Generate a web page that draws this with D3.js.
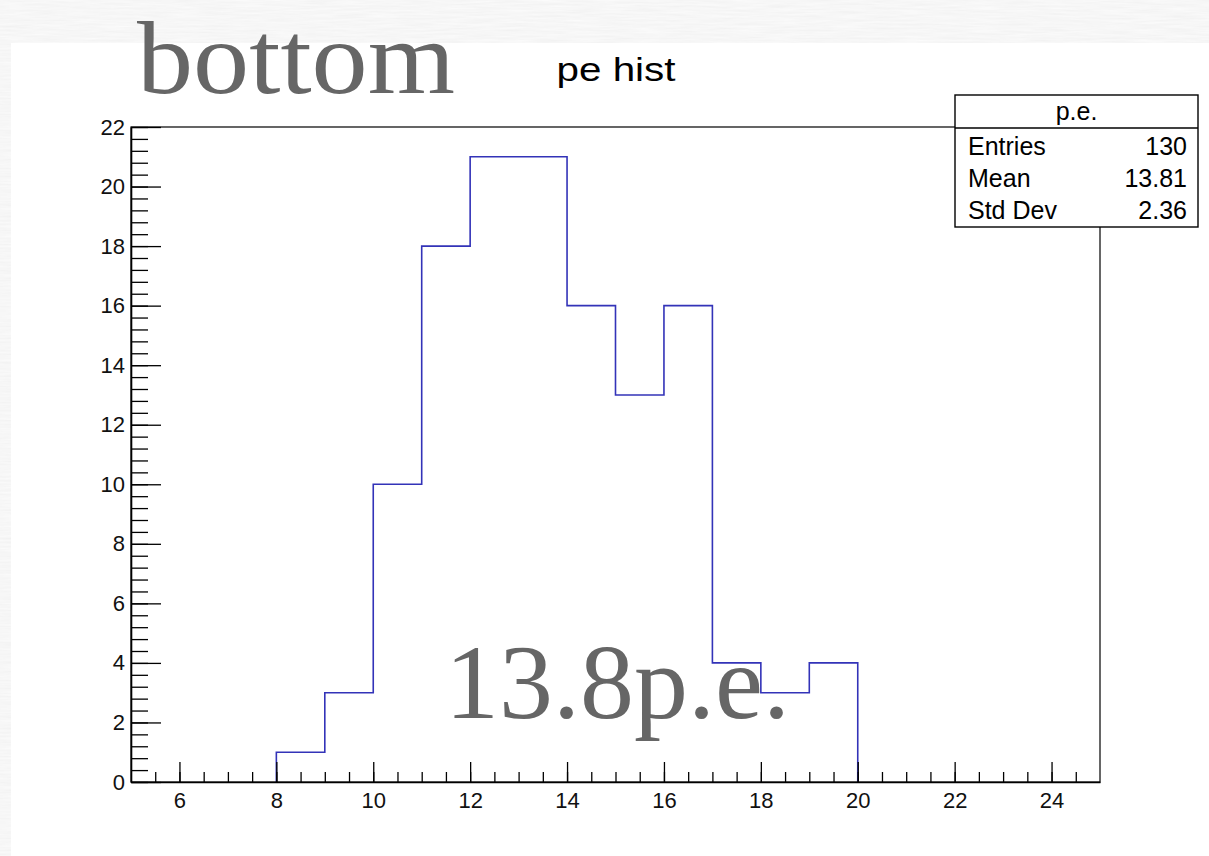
<!DOCTYPE html>
<html>
<head>
<meta charset="utf-8">
<script src="https://cdn.jsdelivr.net/npm/d3@7"></script>
<style>
  html, body { margin: 0; padding: 0; background: #fff; }
  svg { display: block; }
</style>
</head>
<body>
<svg id="chart" width="1209" height="856"></svg>
<script>
// Histogram "pe hist": photoelectron counts per 1 p.e. bin
const binEdges = [8, 9, 10, 11, 12, 13, 14, 15, 16, 17, 18, 19, 20];
const binCounts = [1, 3, 10, 18, 21, 21, 16, 13, 16, 4, 3, 4];
const xDomain = [5, 25];
const yDomain = [0, 22];
const xMajorTicks = [6, 8, 10, 12, 14, 16, 18, 20, 22, 24];
const yMajorTicks = [0, 2, 4, 6, 8, 10, 12, 14, 16, 18, 20, 22];
const statNames = ["Entries", "Mean", "Std Dev"];
const statValues = ["130", "13.81", "2.36"];
const histName = "p.e.";
const histTitle = "pe hist";
const slideTitle = "bottom";
const slideNote = "13.8p.e.";

const svg = d3.select("#chart");

// paper-textured backdrop
const defs = svg.append("defs");
const f = defs.append("filter").attr("id", "paper")
  .attr("filterUnits", "userSpaceOnUse")
  .attr("x", 0).attr("y", 0).attr("width", 1209).attr("height", 856);
f.append("feTurbulence").attr("type", "fractalNoise")
  .attr("baseFrequency", "0.03 0.5").attr("numOctaves", 3).attr("seed", 7);
f.append("feColorMatrix").attr("type", "matrix")
  .attr("values", "0.1 0 0 0 0.875  0.1 0 0 0 0.875  0.1 0 0 0 0.875  0 0 0 0 1");
svg.append("rect").attr("width", 1209).attr("height", 856).attr("filter", "url(#paper)");

// white slide panel
svg.append("rect").attr("x", 11).attr("y", 43).attr("width", 1198).attr("height", 813).attr("fill", "#fff");

const x = d3.scaleLinear().domain(xDomain).range([131, 1100]);
const y = d3.scaleLinear().domain(yDomain).range([782, 127]);

// histogram outline
const pts = [[binEdges[0], 0]];
binCounts.forEach((c, i) => {
  pts.push([binEdges[i], c]);
  pts.push([binEdges[i + 1], c]);
});
pts.push([binEdges[binEdges.length - 1], 0]);
const line = d3.line().x(d => x(d[0])).y(d => y(d[1]));
svg.append("path").attr("d", line(pts))
  .attr("fill", "none").attr("stroke", "#3333b8").attr("stroke-width", 1.6);

// frame
svg.append("rect")
  .attr("x", x(xDomain[0])).attr("y", y(yDomain[1]))
  .attr("width", x(xDomain[1]) - x(xDomain[0]))
  .attr("height", y(yDomain[0]) - y(yDomain[1]))
  .attr("fill", "none").attr("stroke", "#000").attr("stroke-width", 1.2);

const tickFont = "'Liberation Sans', Arial, sans-serif";

// y axis: major ticks with labels, minor ticks every 0.4
const yMinor = d3.range(0, 22.001, 0.4).map(v => +v.toFixed(1));
svg.append("g").attr("transform", `translate(${x(xDomain[0])},0)`)
  .call(d3.axisLeft(y).tickValues(yMinor).tickSizeInner(-17).tickSizeOuter(0).tickFormat(""))
  .call(g => g.select(".domain").remove());
svg.append("g").attr("transform", `translate(${x(xDomain[0])},0)`)
  .call(d3.axisLeft(y).tickValues(yMajorTicks).tickSizeInner(-30).tickSizeOuter(0).tickPadding(6).tickFormat(d3.format("d")))
  .call(g => g.select(".domain").attr("stroke-width", 1.6))
  .call(g => g.selectAll("text").attr("font-family", tickFont).attr("font-size", 22).attr("fill", "#111"));

// x axis: major ticks every 2, minor every 0.5
const xMinor = d3.range(5.5, 25, 0.5);
svg.append("g").attr("transform", `translate(0,${y(0)})`)
  .call(d3.axisBottom(x).tickValues(xMinor).tickSizeInner(-10).tickSizeOuter(0).tickFormat(""))
  .call(g => g.select(".domain").remove());
svg.append("g").attr("transform", `translate(0,${y(0)})`)
  .call(d3.axisBottom(x).tickValues(xMajorTicks).tickSizeInner(-20).tickSizeOuter(0).tickPadding(10).tickFormat(d3.format("d")))
  .call(g => g.select(".domain").attr("stroke-width", 1.6))
  .call(g => g.selectAll("text").attr("font-family", tickFont).attr("font-size", 22).attr("fill", "#111"));
svg.selectAll(".tick line").attr("stroke", "#000").attr("stroke-width", 1.3);

// histogram title
svg.append("text").attr("x", 616).attr("y", 81).attr("text-anchor", "middle")
  .attr("font-family", tickFont).attr("font-size", 34).attr("fill", "#000")
  .attr("textLength", 119).attr("lengthAdjust", "spacingAndGlyphs")
  .text(histTitle);

// statistics box
const box = { x: 955, y: 95, w: 243, h: 132, head: 33 };
const sb = svg.append("g");
sb.append("rect").attr("x", box.x).attr("y", box.y).attr("width", box.w).attr("height", box.h)
  .attr("fill", "#fff").attr("stroke", "#000").attr("stroke-width", 1.4);
sb.append("line").attr("x1", box.x).attr("x2", box.x + box.w)
  .attr("y1", box.y + box.head).attr("y2", box.y + box.head)
  .attr("stroke", "#000").attr("stroke-width", 1.4);
sb.append("text").attr("x", box.x + box.w / 2).attr("y", box.y + 25).attr("text-anchor", "middle")
  .attr("font-family", tickFont).attr("font-size", 25).text(histName);
statNames.forEach((n, i) => {
  const by = box.y + 60 + i * 32;
  sb.append("text").attr("x", box.x + 13).attr("y", by)
    .attr("font-family", tickFont).attr("font-size", 25).text(n);
  sb.append("text").attr("x", box.x + box.w - 11).attr("y", by).attr("text-anchor", "end")
    .attr("font-family", tickFont).attr("font-size", 25).text(statValues[i]);
});

// slide annotations
const serif = "'Liberation Serif', 'Times New Roman', serif";
svg.append("text").attr("x", 137).attr("y", 93)
  .attr("font-family", serif).attr("font-size", 104).attr("fill", "#666")
  .attr("textLength", 318).attr("lengthAdjust", "spacingAndGlyphs")
  .text(slideTitle);
svg.append("text").attr("x", 445).attr("y", 718)
  .attr("font-family", serif).attr("font-size", 106).attr("fill", "#666")
  .attr("textLength", 345).attr("lengthAdjust", "spacingAndGlyphs")
  .text(slideNote);
</script>
</body>
</html>
